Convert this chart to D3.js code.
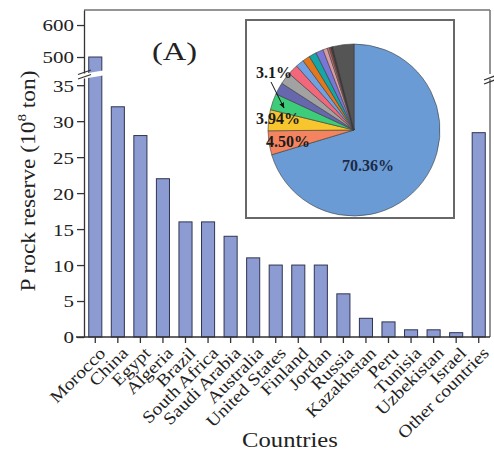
<!DOCTYPE html>
<html><head><meta charset="utf-8">
<script src="https://cdn.jsdelivr.net/npm/d3@7"></script>
<style>body{margin:0;background:#fff} svg{display:block}</style>
</head><body><svg id="c" width="494" height="457"></svg>
<script>
const countries = ["Morocco","China","Egypt","Algeria","Brazil","South Africa","Saudi Arabia","Australia","United States","Finland","Jordan","Russia","Kazakhstan","Peru","Tunisia","Uzbekistan","Israel","Other countries"];
const reserves = [500,32,28,22,16,16,14,11,10,10,10,6,2.6,2.1,1,1,0.6,28.4];
const lowerTicks = [0,5,10,15,20,25,30,35];
const upperTicks = [500,600];
const pieColors = ["#6a9bd4","#f4845f","#f7c52e","#3dcc7a","#6767ad","#a2a2a2","#f2687a","#72a0e2","#e2781c","#17a6a6","#7876d6","#d99aa6","#bf7c70","#b84848","#2a2a2a","#3c3c3c","#111111","#555555"];
const pieLabelTexts = ["70.36%","4.50%","3.94%","3.1%"];

const FONT = "'Liberation Serif', Tinos, 'Times New Roman', Times, serif";
const svg = d3.select("#c").style("font-family", FONT);
const L = 84, R = 490, T = 10, B = 337;
const x = d3.scaleBand().domain(countries).range([L, R]).paddingInner(0.42).paddingOuter(0.21);
const yLow = d3.scaleLinear().domain([0, 36]).range([B, 78]);
const yUp = d3.scaleLinear().domain([450, 647]).range([73, T]);

function stretchText(sel, s) {
  sel.each(function() {
    const t = d3.select(this);
    const base = t.attr("data-base") || "";
    t.attr("transform", base + " scale(" + s + ",1)")
     .style("font-family", FONT);
  });
}

// frame top/right
svg.append("line").attr("x1", L).attr("x2", R).attr("y1", T).attr("y2", T).attr("stroke", "#707070").attr("stroke-width", 1.5);
svg.append("line").attr("x1", R).attr("x2", R).attr("y1", T).attr("y2", 74).attr("stroke", "#707070").attr("stroke-width", 1.5);
svg.append("line").attr("x1", R).attr("x2", R).attr("y1", 79).attr("y2", B).attr("stroke", "#707070").attr("stroke-width", 1.5);

// bars
const data = countries.map((c, i) => ({c, v: reserves[i]}));
svg.append("g").selectAll("rect").data(data).join("rect")
  .attr("x", d => x(d.c))
  .attr("width", x.bandwidth())
  .attr("y", d => d.v > 36 ? yUp(d.v) : yLow(d.v))
  .attr("height", d => B - (d.v > 36 ? yUp(d.v) : yLow(d.v)))
  .attr("fill", "#8d9bd3").attr("stroke", "#2f3552").attr("stroke-width", 1);

// break gap (white)
svg.append("polygon").attr("points", "76,75 106,70 106,75 76,80").attr("fill", "#fff");

// inset box
svg.append("rect").attr("x", 246).attr("y", 20).attr("width", 208).attr("height", 198)
  .attr("fill", "#fff").attr("stroke", "#686868").attr("stroke-width", 2);

// pie
const pie = d3.pie().sort(null).value(d => d)(reserves);
const arc = d3.arc().innerRadius(0).outerRadius(86);
const pg = svg.append("g").attr("transform", "translate(354,130)");
pg.selectAll("path").data(pie).join("path")
  .attr("d", arc).attr("fill", (d, i) => pieColors[i])
  .attr("stroke", "#3a3a3a").attr("stroke-width", 0.6);

const labelPos = [[368,171,"middle","#1c2a48"],[266,147,"start","#1a1a1a"],[256,124,"start","#1a1a1a"],[256,78,"start","#1a1a1a"]];
pieLabelTexts.forEach((t, i) => {
  const p = labelPos[i];
  const el = svg.append("text").text(t).attr("font-size", 16).attr("font-weight", "bold")
    .attr("text-anchor", p[2]).style("fill", p[3])
    .attr("data-base", `translate(${p[0]},${p[1]})`);
  stretchText(el, 1.0);
});
// arrow
svg.append("defs").append("marker").attr("id", "ah").attr("viewBox", "0 0 10 10").attr("refX", 9).attr("refY", 5)
  .attr("markerWidth", 6).attr("markerHeight", 6).attr("orient", "auto")
  .append("path").attr("d", "M0,1 L10,5 L0,9 Z").attr("fill", "#111");
svg.append("line").attr("x1", 271).attr("y1", 82).attr("x2", 284).attr("y2", 108)
  .attr("stroke", "#111").attr("stroke-width", 1).attr("marker-end", "url(#ah)");

// axes
function styleAxis(g) {
  g.attr("font-family", null).attr("font-size", null);
  g.selectAll("path,line").attr("stroke", "#333").attr("stroke-width", 1.3);
}
const gLow = svg.append("g").attr("transform", `translate(${L},0)`)
  .call(d3.axisLeft(yLow).tickValues(lowerTicks).tickSize(7).tickSizeOuter(0));
const gUp = svg.append("g").attr("transform", `translate(${L},0)`)
  .call(d3.axisLeft(yUp).tickValues(upperTicks).tickSize(7).tickSizeOuter(0));
[gLow, gUp].forEach(g => {
  styleAxis(g);
  g.selectAll(".tick text").attr("x", null).attr("dy", "0.36em").attr("font-size", 16.5)
    .attr("text-anchor", "end").style("fill", "#222")
    .attr("data-base", "translate(-10,0)");
  stretchText(g.selectAll(".tick text"), 1.27);
});
const gX = svg.append("g").attr("transform", `translate(0,${B})`)
  .call(d3.axisBottom(x).tickSize(6).tickSizeOuter(0));
styleAxis(gX);
gX.select(".domain").attr("d", `M${L - 8},0H${R}`);
gX.selectAll(".tick text").attr("y", null).attr("x", null).attr("dy", "0.35em")
  .attr("font-size", 17).attr("text-anchor", "end").style("fill", "#222")
  .attr("data-base", "translate(7,13) rotate(-45)");
stretchText(gX.selectAll(".tick text"), 1.15);

// break marks
[[78,74.5,91,70],[78,79,91,74.5],[484,80,496,75.5],[484,84,496,79.5]].forEach(s => {
  svg.append("line").attr("x1", s[0]).attr("y1", s[1]).attr("x2", s[2]).attr("y2", s[3])
    .attr("stroke", "#333").attr("stroke-width", 1.2);
});

// titles
const ta = svg.append("text").text("(A)").attr("font-size", 26).style("fill", "#222").attr("data-base", "translate(152,60)");
stretchText(ta, 1.25);
const yl = svg.append("text").attr("font-size", 20).attr("text-anchor", "middle").style("fill", "#222")
  .attr("data-base", "translate(35,181) rotate(-90)");
yl.append("tspan").text("P rock reserve (10");
yl.append("tspan").text("8").attr("font-size", 13).attr("dy", "-0.7em");
yl.append("tspan").text(" ton)").attr("dy", "0.45em");
stretchText(yl, 1.17);
const xl = svg.append("text").text("Countries").attr("font-size", 22).attr("text-anchor", "middle").style("fill", "#222")
  .attr("data-base", "translate(290,447)");
stretchText(xl, 1.12);
</script></body></html>
